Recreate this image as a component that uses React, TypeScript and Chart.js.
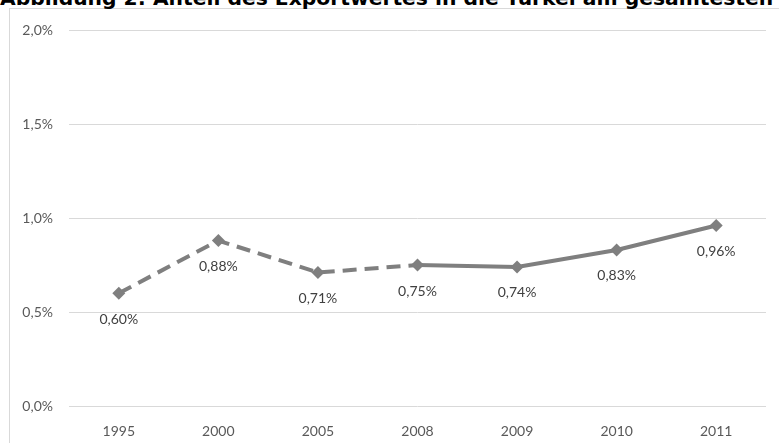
import React, { useEffect, useRef } from "react";
import { Chart, registerables } from "chart.js";

Chart.register(...registerables);

const title = "Abbildung 2: Anteil des Exportwertes in die Türkei am gesamtesten Export";
const years = ["1995", "2000", "2005", "2008", "2009", "2010", "2011"];
const shares = [0.6, 0.88, 0.71, 0.75, 0.74, 0.83, 0.96];
const shareLabels = ["0,60%", "0,88%", "0,71%", "0,75%", "0,74%", "0,83%", "0,96%"];
const dashedUntil = 3;

const FONT = "Lato, 'Open Sans', sans-serif";

const labelPlugin = {
  id: "valueLabels",
  afterDatasetsDraw(chart: any) {
    const ctx = chart.ctx;
    const meta = chart.getDatasetMeta(0);
    ctx.save();
    ctx.font = `14px ${FONT}`;
    ctx.fillStyle = "#404040";
    ctx.textAlign = "center";
    ctx.textBaseline = "middle";
    meta.data.forEach((pt: any, i: number) => {
      ctx.fillText(shareLabels[i], pt.x, pt.y + 26);
    });
    ctx.restore();
  },
};

export default function App() {
  const ref = useRef<HTMLCanvasElement | null>(null);
  useEffect(() => {
    document.body.style.margin = "0";
    const chart = new Chart(ref.current as HTMLCanvasElement, {
      type: "line",
      data: {
        labels: years,
        datasets: [
          {
            data: shares,
            borderColor: "#7f7f7f",
            backgroundColor: "#7f7f7f",
            borderWidth: 4,
            borderCapStyle: "butt",
            pointStyle: "rectRot",
            pointRadius: 6.5,
            pointBorderWidth: 0,
            pointBackgroundColor: "#7f7f7f",
            tension: 0,
            segment: {
              borderDash: (c: any) => (c.p0DataIndex < dashedUntil ? [14, 8] : undefined),
            },
          } as any,
        ],
      },
      options: {
        animation: false,
        responsive: false,
        maintainAspectRatio: false,
        layout: { padding: { left: 0, top: 30, right: 13, bottom: 0 } },
        plugins: { legend: { display: false }, tooltip: { enabled: false } },
        scales: {
          x: {
            offset: true,
            grid: { display: false, offset: true },
            border: { display: false },
            ticks: { color: "#595959", font: { family: FONT, size: 14 }, padding: 9 },
            afterFit: (s: any) => {
              s.height = 37;
            },
          },
          y: {
            min: 0,
            max: 2,
            grid: { color: "#d9d9d9", lineWidth: 1, drawTicks: false },
            border: { display: false },
            ticks: {
              stepSize: 0.5,
              padding: 16,
              color: "#595959",
              font: { family: FONT, size: 14 },
              callback: (v: any) => Number(v).toFixed(1).replace(".", ",") + "%",
            },
            afterFit: (s: any) => {
              s.width = 69;
            },
          },
        },
      },
      plugins: [labelPlugin],
    });
    return () => chart.destroy();
  }, []);

  return (
    <div style={{ position: "fixed", left: 0, top: 0, width: 779, height: 443, overflow: "hidden", background: "#fff" }}>
      <div
        style={{
          position: "absolute",
          left: 9,
          top: 8,
          width: 900,
          height: 600,
          border: "1px solid #d9d9d9",
          boxSizing: "border-box",
        }}
      />
      <div
        style={{
          position: "absolute",
          left: 0,
          top: -12,
          whiteSpace: "nowrap",
          font: "bold 20.3px 'DejaVu Sans', Verdana, sans-serif",
          color: "#000",
          lineHeight: "20px",
        }}
      >
        {title}
      </div>
      <canvas ref={ref} width={779} height={443} style={{ position: "absolute", left: 0, top: 0 }} />
    </div>
  );
}
